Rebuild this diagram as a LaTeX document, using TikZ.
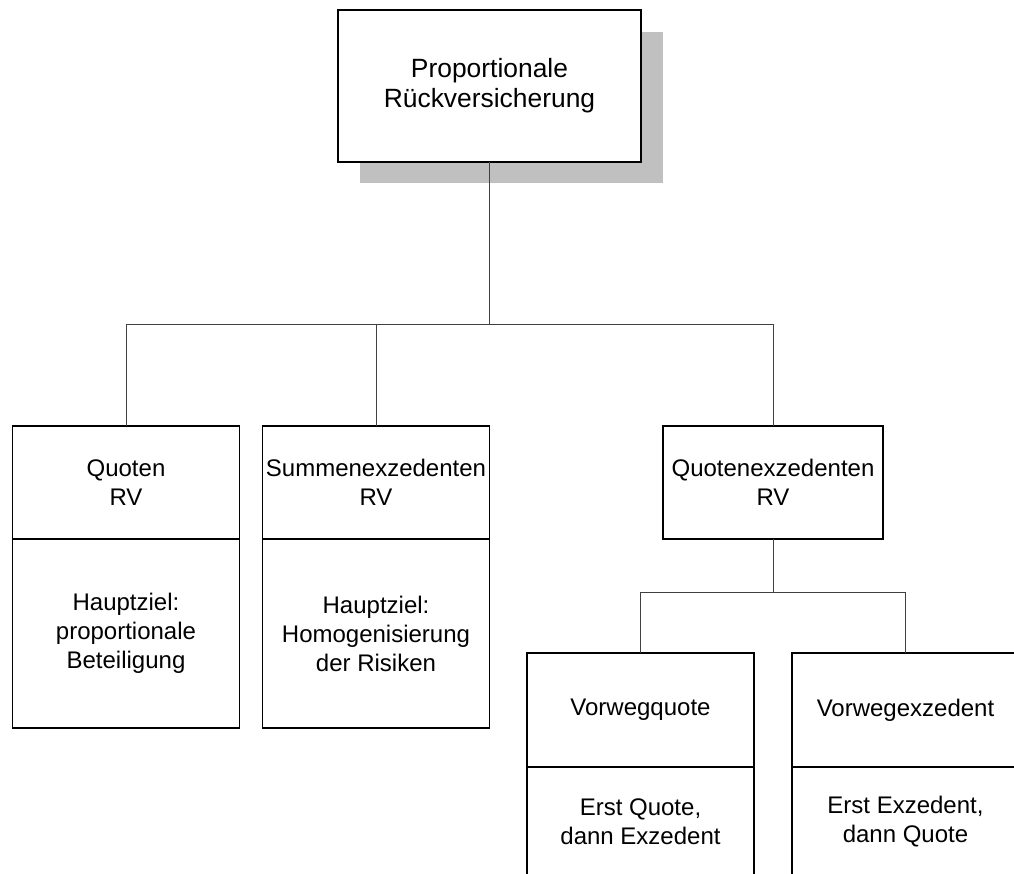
\documentclass[tikz,border=0pt]{standalone}
\usepackage{fontspec}
\setmainfont{Liberation Sans}
\usetikzlibrary{positioning}
\definecolor{schatten}{RGB}{192,192,192}
\begin{document}
\begin{tikzpicture}[x=0.5pt,y=-0.5pt,
   box/.style={draw,line width=0.8pt,fill=white,align=center,inner sep=1pt,outer sep=0pt,
      minimum width=113.5pt,font=\fontsize{12pt}{14.5pt}\selectfont},
   conn/.style={line width=0.5pt,black!75}]
   \useasboundingbox (0,0) rectangle (1014,874);
   \clip (0,0) rectangle (1014,874);

   % oberes Kaestchen mit Schatten
   \fill[schatten] (360,32) rectangle (663,183);
   \node[box,minimum width=151.5pt,minimum height=76pt,font=\fontsize{13.2pt}{15pt}\selectfont] (prv) at (489.5,86) {Proportionale\\Rückversicherung};

   \node[box,minimum height=56.5pt] (quoten) at (126,482.5) {Quoten\\RV};
   \node[box,minimum height=94.5pt,below=0pt of quoten] (quotenziel) {Hauptziel:\\proportionale\\Beteiligung};
   \node[box,minimum height=56.5pt] (summen) at (376,482.5) {Summenexzedenten\\RV};
   \node[box,minimum height=94.5pt,below=0pt of summen] (summenziel) {Hauptziel:\\Homogenisierung\\der Risiken};
   \node[box,minimum width=110pt,minimum height=56.5pt] (qex) at (773,482.5) {Quotenexzedenten\\RV};

   \node[box,minimum height=57pt] (vq) at (640.5,710) {Vorwegquote};
   \node[box,minimum height=55pt,below=0pt of vq] (vqtext) {Erst Quote,\\dann Exzedent};
   \node[box,minimum height=57pt] (vx) at (905.5,710) {Vorwegexzedent};
   \node[box,minimum height=55pt,below=0pt of vx] (vxtext) {Erst Exzedent,\\dann Quote};

   % Verbindungen
   \coordinate (bus) at (489.5,324);
   \draw[conn] (prv.south) -- (bus);
   \foreach \n in {quoten,summen,qex} \draw[conn] (bus) -| (\n.north);
   \coordinate (bus2) at (773,592);
   \draw[conn] (qex.south) -- (bus2);
   \foreach \n in {vq,vx} \draw[conn] (bus2) -| (\n.north);

\end{tikzpicture}
\end{document}
